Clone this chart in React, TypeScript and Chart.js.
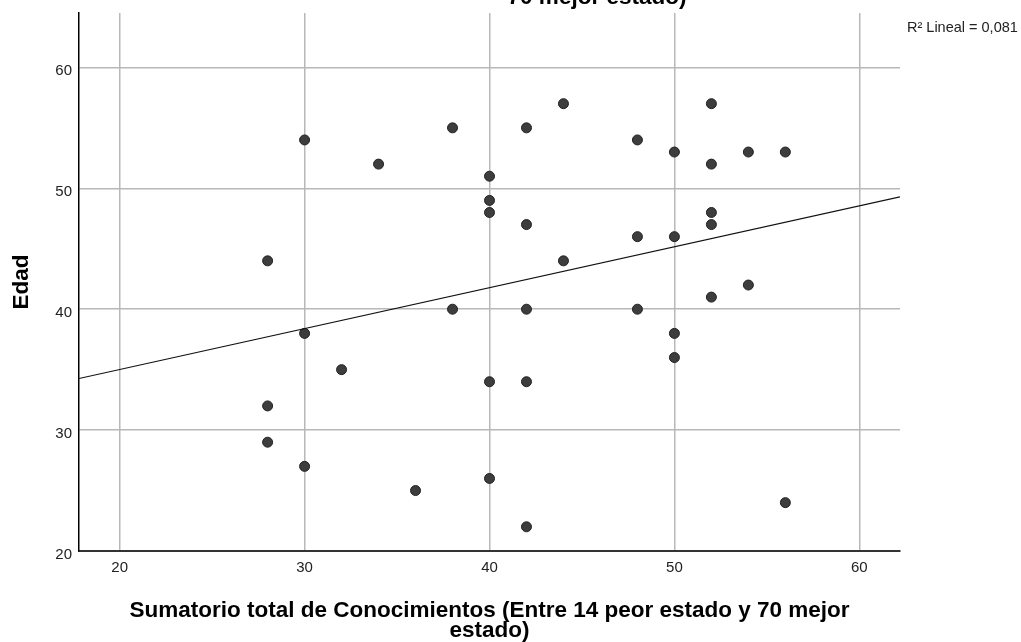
import { useEffect, useRef } from "react";
import { Chart, registerables } from "chart.js";

Chart.register(...registerables);

// ---- Data ----
const knowledgeScores = [
  28, 28, 28, 30, 30, 30, 32, 34, 36, 38, 38, 40, 40, 40, 40, 40, 42, 42, 42, 42,
  42, 44, 44, 48, 48, 48, 50, 50, 50, 50, 52, 52, 52, 52, 52, 54, 54, 56, 56,
];
const ages = [
  44, 32, 29, 54, 38, 27, 35, 52, 25, 55, 40, 51, 49, 48, 34, 26, 55, 47, 40, 34,
  22, 57, 44, 54, 46, 40, 53, 46, 38, 36, 57, 52, 48, 47, 41, 53, 42, 53, 24,
];
const xTicks = [20, 30, 40, 50, 60];
const yTicks = [20, 30, 40, 50, 60];
const X_MIN = 17.8;
const X_MAX = 62.2;
const Y_MIN = 20;
const Y_MAX = 64.5;
const xTitle = [
  "Sumatorio total de Conocimientos (Entre 14 peor estado y 70 mejor",
  "estado)",
];
const yTitle = "Edad";
const topTitleVisible = "70 mejor estado)";
const fitLabel = "R² Lineal";

// ---- Linear fit computed from the data ----
function linearFit(xs: number[], ys: number[]) {
  const n = xs.length;
  const mx = xs.reduce((a, b) => a + b, 0) / n;
  const my = ys.reduce((a, b) => a + b, 0) / n;
  let sxy = 0, sxx = 0, syy = 0;
  for (let i = 0; i < n; i++) {
    sxy += (xs[i] - mx) * (ys[i] - my);
    sxx += (xs[i] - mx) ** 2;
    syy += (ys[i] - my) ** 2;
  }
  const slope = sxy / sxx;
  const intercept = my - slope * mx;
  const r2 = (sxy * sxy) / (sxx * syy);
  return { slope, intercept, r2 };
}

const FONT = '"Liberation Sans", Arial, sans-serif';

export default function App() {
  const canvasRef = useRef<HTMLCanvasElement | null>(null);

  useEffect(() => {
    if (!canvasRef.current) return;
    const { slope, intercept, r2 } = linearFit(knowledgeScores, ages);
    const r2Text = r2.toFixed(3).replace(".", ",");

    const points = knowledgeScores.map((x, i) => ({ x, y: ages[i] }));
    const fitLine = [X_MIN, X_MAX].map((x) => ({ x, y: intercept + slope * x }));

    const textPlugin = {
      id: "extraText",
      afterDraw(chart: any) {
        const ctx = chart.ctx as CanvasRenderingContext2D;
        const area = chart.chartArea;
        ctx.save();
        ctx.fillStyle = "#000";
        ctx.font = `bold 22.5px ${FONT}`;
        ctx.textAlign = "center";
        ctx.textBaseline = "alphabetic";
        ctx.fillText(topTitleVisible, 597, 4);
        ctx.font = `14.5px ${FONT}`;
        ctx.fillStyle = "#222";
        ctx.textAlign = "left";
        ctx.textBaseline = "middle";
        ctx.fillText(`${fitLabel} = ${r2Text}`, area.right + 7, 28);
        ctx.restore();
      },
    };

    const chart = new Chart(canvasRef.current, {
      type: "scatter",
      data: {
        datasets: [
          {
            label: "fit",
            data: fitLine,
            showLine: true,
            pointRadius: 0,
            borderColor: "#111",
            borderWidth: 1.2,
            fill: false,
          } as any,
          {
            label: "Edad",
            data: points,
            pointRadius: 5,
            pointHoverRadius: 5,
            backgroundColor: "#3d3d3d",
            borderColor: "#222",
            borderWidth: 1,
          },
        ],
      },
      options: {
        animation: false,
        responsive: false,
        events: [],
        layout: { padding: { top: 13, right: 121, left: 0, bottom: 0 } },
        plugins: {
          legend: { display: false },
          tooltip: { enabled: false },
          title: { display: false },
        },
        scales: {
          x: {
            type: "linear",
            min: X_MIN,
            max: X_MAX,
            afterBuildTicks: (s: any) => {
              s.ticks = xTicks.map((v) => ({ value: v }));
            },
            afterFit: (s: any) => {
              s.height = 91;
              s.paddingLeft = 0;
              s.paddingRight = 0;
            },
            ticks: {
              padding: 8,
              color: "#222",
              font: { family: FONT, size: 15 },
              includeBounds: false,
            },
            grid: { color: "#b8b8b8", lineWidth: 1.5, drawTicks: false },
            border: { color: "#333", width: 2 },
            title: {
              display: true,
              text: xTitle,
              color: "#000",
              font: { family: FONT, size: 22.5, weight: "bold", lineHeight: "20px" },
              padding: { top: 0, bottom: 1 },
            },
          },
          y: {
            type: "linear",
            min: Y_MIN,
            max: Y_MAX,
            afterBuildTicks: (s: any) => {
              s.ticks = yTicks.map((v) => ({ value: v }));
            },
            afterFit: (s: any) => {
              s.width = 79;
              s.paddingTop = 0;
              s.paddingBottom = 0;
            },
            ticks: {
              padding: 7,
              labelOffset: 3.5,
              color: "#222",
              font: { family: FONT, size: 15 },
              includeBounds: false,
            },
            grid: { color: "#b8b8b8", lineWidth: 1.5, drawTicks: false },
            border: { color: "#000", width: 1.5 },
            title: {
              display: true,
              text: yTitle,
              color: "#000",
              font: { family: FONT, size: 22.5, weight: "bold", lineHeight: "20px" },
              padding: { top: 12, bottom: 0 },
            },
          },
        },
      } as any,
      plugins: [textPlugin],
    });

    return () => chart.destroy();
  }, []);

  return (
    <div style={{ position: "absolute", left: 0, top: 0, width: 1021, height: 642, background: "#fff" }}>
      <canvas ref={canvasRef} width={1021} height={642} style={{ width: 1021, height: 642 }} />
    </div>
  );
}
